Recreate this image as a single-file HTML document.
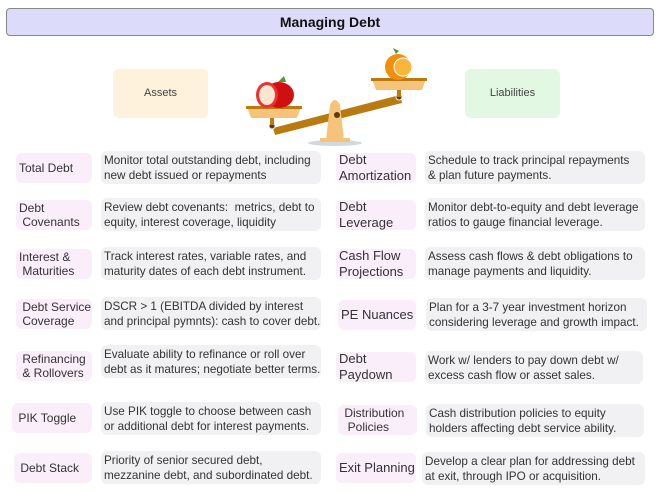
<!DOCTYPE html>
<html><head><meta charset="utf-8"><style>
body{margin:0;width:659px;height:492px;background:#fff;position:relative;font-family:"Liberation Sans",sans-serif;color:#333;overflow:hidden}
.a{position:absolute;box-sizing:border-box}
.t{left:6px;top:8px;width:648px;height:28px;background:#dcdcfa;border:1px solid #888;border-radius:4px;text-align:center;line-height:26px;font-weight:bold;font-size:14px;color:#111}
.lb{background:#fbeefb;border-radius:6px;font-size:12px;display:flex;align-items:center;padding-left:3px;line-height:14px;white-space:nowrap}
.ds{background:#f1f1f3;border-radius:6px;font-size:11.7px;display:flex;align-items:center;padding-left:3px;line-height:15px;white-space:nowrap}
.rl{font-size:13px;line-height:16px}
</style></head><body>
<div class="a t">Managing Debt</div>
<div class="a" style="left:113px;top:69px;width:95px;height:49px;background:#fff2dc;border-radius:6px;font-size:11px;text-align:center;line-height:49px;color:#444">Assets</div>
<div class="a" style="left:465px;top:69px;width:95px;height:49px;background:#e3f8e3;border-radius:6px;font-size:11px;text-align:center;line-height:49px;color:#444">Liabilities</div>
<svg class="a" style="left:240px;top:45px" width="190" height="105" viewBox="240 45 190 105">
<ellipse cx="335" cy="143" rx="27" ry="3" fill="#cfd9e0"/>
<polygon points="273,128 400,95 402,103 275,135" fill="#b97a10"/>
<path d="M326,140 L330,105 Q335,95 340,105 L344,140 Z" fill="#f5c47a"/>
<rect x="320" y="138" width="30" height="4" fill="#f5c47a"/>
<circle cx="337" cy="115" r="3" fill="#5a3a10"/>
<circle cx="272" cy="126" r="3" fill="#5a3a10" stroke="#eee"/>
<circle cx="399" cy="97" r="3" fill="#5a3a10" stroke="#eee"/>
<rect x="270" y="115" width="4" height="10" fill="#b97a10"/>
<rect x="397" y="88" width="4" height="9" fill="#b97a10"/>
<path d="M247,107 L301,107 L297,118 L251,118Z" fill="#f5c47a"/><rect x="246" y="106" width="56" height="3" fill="#b97a10"/>
<path d="M372,79 L426,79 L422,90 L376,90Z" fill="#f5c47a"/><rect x="371" y="78" width="56" height="3" fill="#b97a10"/>
<ellipse cx="279" cy="95" rx="15" ry="13" fill="#d01010"/>
<ellipse cx="267" cy="95" rx="11" ry="13" fill="#f03030"/>
<ellipse cx="267" cy="95" rx="8" ry="10" fill="#fbe6d0"/>
<path d="M278,82 l6,-6 l2,6z" fill="#4a9a30"/>
<circle cx="398" cy="67" r="13" fill="#f0900a"/>
<circle cx="403" cy="67" r="9" fill="#fbb53a" stroke="#fff" stroke-width="1"/>
<path d="M396,54 l-3,-6 l6,3z" fill="#4a9a30"/>
</svg>

<div class="a lb" style="left:16px;top:153px;width:76px;height:30px">Total Debt</div>
<div class="a ds" style="left:101px;top:151px;width:220px;height:33px">Monitor total outstanding debt, including<br>new debt issued or repayments</div>
<div class="a lb" style="left:16px;top:200px;width:76px;height:30px">Debt<br>&nbsp;Covenants</div>
<div class="a ds" style="left:101px;top:198px;width:220px;height:33px">Review debt covenants:&nbsp; metrics, debt to<br>equity, interest coverage, liquidity</div>
<div class="a lb" style="left:16px;top:249px;width:76px;height:30px">Interest &amp;<br>&nbsp;Maturities</div>
<div class="a ds" style="left:101px;top:247px;width:220px;height:33px">Track interest rates, variable rates, and<br>maturity dates of each debt instrument.</div>
<div class="a lb" style="left:16px;top:299px;width:76px;height:30px">&nbsp;Debt Service<br>&nbsp;Coverage</div>
<div class="a ds" style="left:101px;top:297px;width:220px;height:33px">DSCR &gt; 1 (EBITDA divided by interest<br>and principal pymnts): cash to cover debt.</div>
<div class="a lb" style="left:16px;top:351px;width:76px;height:30px">&nbsp;Refinancing<br>&nbsp;&amp; Rollovers</div>
<div class="a ds" style="left:101px;top:345px;width:220px;height:33px">Evaluate ability to refinance or roll over<br>debt as it matures; negotiate better terms.</div>
<div class="a lb" style="left:12px;top:403px;width:80px;height:30px">&nbsp;PIK Toggle</div>
<div class="a ds" style="left:101px;top:402px;width:220px;height:33px">Use PIK toggle to choose between cash<br>or additional debt for interest payments.</div>
<div class="a lb" style="left:14px;top:453px;width:78px;height:30px">&nbsp;Debt Stack</div>
<div class="a ds" style="left:101px;top:451px;width:220px;height:33px">Priority of senior secured debt,<br>mezzanine debt, and subordinated debt.</div>

<div class="a lb rl" style="left:336px;top:153px;width:80px;height:30px">Debt<br>Amortization</div>
<div class="a ds" style="left:425px;top:151px;width:220px;height:33px">Schedule to track principal repayments<br>&amp; plan future payments.</div>
<div class="a lb rl" style="left:336px;top:200px;width:80px;height:30px">Debt<br>Leverage</div>
<div class="a ds" style="left:425px;top:198px;width:220px;height:33px">Monitor debt-to-equity and debt leverage<br>ratios to gauge financial leverage.</div>
<div class="a lb rl" style="left:336px;top:249px;width:80px;height:30px">Cash Flow<br>Projections</div>
<div class="a ds" style="left:425px;top:247px;width:220px;height:33px">Assess cash flows &amp; debt obligations to<br>manage payments and liquidity.</div>
<div class="a lb rl" style="left:338px;top:300px;width:78px;height:30px">PE Nuances</div>
<div class="a ds" style="left:426px;top:298px;width:221px;height:33px">Plan for a 3-7 year investment horizon<br>considering leverage and growth impact.</div>
<div class="a lb rl" style="left:336px;top:352px;width:80px;height:30px">Debt<br>Paydown</div>
<div class="a ds" style="left:425px;top:351px;width:218px;height:33px">Work w/ lenders to pay down debt w/<br>excess cash flow or asset sales.</div>
<div class="a lb" style="left:338px;top:405px;width:79px;height:30px">&nbsp;Distribution<br>&nbsp;&nbsp;Policies</div>
<div class="a ds" style="left:426px;top:404px;width:218px;height:33px">Cash distribution policies to equity<br>holders affecting debt service ability.</div>
<div class="a lb rl" style="left:336px;top:453px;width:80px;height:30px">Exit Planning</div>
<div class="a ds" style="left:422px;top:452px;width:223px;height:33px">Develop a clear plan for addressing debt<br>at exit, through IPO or acquisition.</div>
</body></html>
